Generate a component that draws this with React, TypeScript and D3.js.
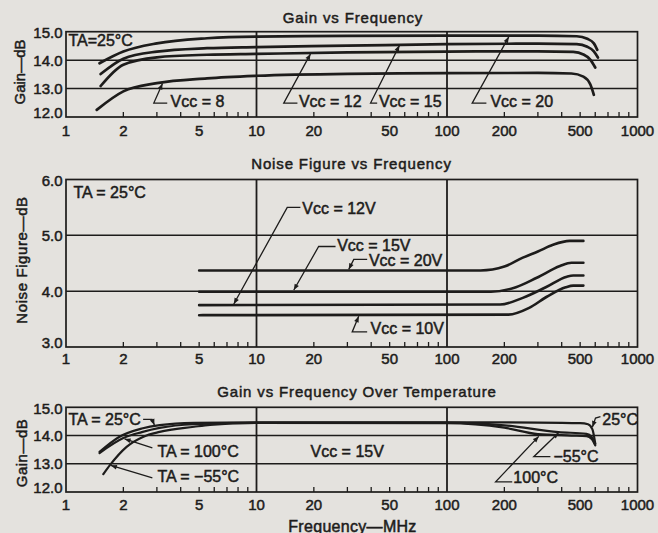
import React from 'react';
import * as d3 from 'd3';

type Pt = [number, number];

// ---------- data ----------
const FREQ_LABELS = [1, 2, 5, 10, 20, 50, 100, 200, 500, 1000];
const FREQ_GRID = [10, 100];
const GAIN_TICKS = [12, 13, 14, 15];
const NF_TICKS = [3, 4, 5, 6];

// Gain vs Frequency (TA = 25°C)
const gainVcc20: Pt[] = [[1.5, 13.89], [2, 14.3], [3, 14.59], [5.5, 14.77], [10, 14.83], [30, 14.85], [100, 14.86], [300, 14.86], [480, 14.84], [545, 14.75], [590, 14.59], [615, 14.36]];
const gainVcc15: Pt[] = [[1.52, 13.51], [2, 14.05], [3, 14.3], [5.5, 14.42], [10, 14.46], [30, 14.51], [100, 14.56], [300, 14.58], [480, 14.56], [545, 14.47], [590, 14.31], [620, 14.09]];
const gainVcc12: Pt[] = [[1.52, 13.09], [2, 13.84], [3, 14.1], [5.5, 14.19], [10, 14.22], [30, 14.27], [100, 14.3], [300, 14.31], [460, 14.29], [520, 14.2], [565, 14.02], [600, 13.74]];
const gainVcc8: Pt[] = [[1.45, 12.25], [2, 12.9], [3, 13.19], [5.5, 13.36], [10, 13.45], [30, 13.52], [100, 13.54], [300, 13.55], [450, 13.53], [520, 13.42], [565, 13.15], [590, 12.78]];

// Noise Figure vs Frequency (TA = 25°C)
const nfVcc20: Pt[] = [[5, 4.37], [150, 4.37], [200, 4.44], [250, 4.6], [300, 4.71], [360, 4.83], [440, 4.9], [520, 4.9]];
const nfVcc15: Pt[] = [[5, 3.99], [170, 3.99], [230, 4.07], [296, 4.24], [392, 4.45], [450, 4.51], [520, 4.51]];
const nfVcc12: Pt[] = [[5, 3.75], [190, 3.76], [250, 3.88], [330, 4.07], [426, 4.26], [460, 4.28], [520, 4.28]];
const nfVcc10: Pt[] = [[5, 3.57], [210, 3.58], [270, 3.7], [334, 3.9], [420, 4.07], [460, 4.1], [520, 4.1]];

// Gain vs Frequency Over Temperature (Vcc = 15V)
const gainT25: Pt[] = [[1.5, 13.42], [1.9, 13.95], [2.5, 14.25], [3.1, 14.37], [4.7, 14.45], [10, 14.47], [100, 14.47], [300, 14.46], [500, 14.44], [550, 14.4], [580, 14.22], [600, 13.72]];
const gainT100: Pt[] = [[1.5, 13.38], [2, 13.91], [2.5, 14.12], [3.1, 14.27], [4.7, 14.4], [10, 14.45], [100, 14.44], [200, 14.28], [300, 14.05], [450, 14.0], [540, 13.98], [575, 13.88], [600, 13.65]];
const gainTm55: Pt[] = [[1.57, 12.63], [1.7, 12.95], [2.08, 13.6], [2.55, 13.96], [3.1, 14.13], [4.7, 14.31], [5.7, 14.38], [10, 14.45], [100, 14.46], [200, 14.36], [385, 14.12], [540, 14.06], [575, 13.95], [600, 13.7]];

// annotations, in data units (freq MHz, value)
interface Note { text: string; at: Pt; leader?: Pt[]; }
const gainNotes: Note[] = [
  { text: 'TA=25°C', at: [1.03, 14.48] },
  { text: 'Vcc = 8', at: [3.54, 12.34], leader: [[3.4, 12.49], [2.89, 12.49], [3.21, 13.18]] },
  { text: 'Vcc = 12', at: [16.7, 12.34], leader: [[16.4, 12.49], [13.9, 12.49], [19.2, 14.22]] },
  { text: 'Vcc = 15', at: [43.9, 12.34], leader: [[43.0, 12.49], [39.7, 12.49], [56.3, 14.52]] },
  { text: 'Vcc = 20', at: [169, 12.34], leader: [[161, 12.49], [135.6, 12.49], [211, 14.82]] },
];
const nfNotes: Note[] = [
  { text: 'TA = 25°C', at: [1.095, 5.66] },
  { text: 'Vcc = 12V', at: [17.4, 5.39], leader: [[17.0, 5.5], [14.5, 5.5], [7.6, 3.77]] },
  { text: 'Vcc = 15V', at: [26.5, 4.725], leader: [[26.0, 4.8], [21.2, 4.8], [15.7, 4.02]] },
  { text: 'Vcc = 20V', at: [38.9, 4.45], leader: [[38.1, 4.57], [32.4, 4.57], [30.5, 4.39]] },
  { text: 'Vcc = 10V', at: [39.7, 3.23], leader: [[38.1, 3.27], [31.8, 3.27], [34.4, 3.55]] },
];
const tempNotes: Note[] = [
  { text: 'TA = 25°C', at: [1.03, 14.37], leader: [[2.54, 14.575], [2.83, 14.575], [2.91, 14.37]] },
  { text: 'TA = 100°C', at: [3.02, 13.25], leader: [[2.84, 13.56], [2.03, 13.88]] },
  { text: 'TA = −55°C', at: [3.02, 12.36], leader: [[2.84, 12.5], [1.72, 12.94]] },
  { text: 'Vcc = 15V', at: [19.2, 13.25] },
  { text: '25°C', at: [653, 14.37], leader: [[639, 14.67], [602, 14.62], [580, 14.3]] },
  { text: '−55°C', at: [362, 13.07], leader: [[349, 13.25], [285.5, 13.25], [385, 14.1]] },
  { text: '100°C', at: [223, 12.32], leader: [[220, 12.36], [180, 12.36], [303, 13.97]] },
];

// ---------- styling / layout ----------
const W = 658;
const H = 533;
const INK = '#1d1c1b';
const BG = '#e4e2de';
const FONT = '"Liberation Sans", Arial, Helvetica, sans-serif';
const TXT = { fontFamily: FONT, fill: INK, stroke: INK, strokeWidth: 0.5 } as const;

const x = d3.scaleLog().domain([1, 1000]).range([66, 637.5]);

interface PanelProps {
  yDomain: [number, number];
  yTop: number;
  yBot: number;
  yTicks: number[];
  title: string;
  titleX: number;
  titleY: number;
  yLabel: string;
  yLabelX: number;
  yLabelY: number;
  yLabelLs: number;
  xLabelY: number;
  series: Pt[][];
  curveWidth: number;
  notes: Note[];
}

function Panel(p: PanelProps) {
  const y = d3.scaleLinear().domain(p.yDomain).range([p.yBot, p.yTop]);
  const curve = d3.line<Pt>().x(d => x(d[0])).y(d => y(d[1])).curve(d3.curveMonotoneX);
  const straight = d3.line<Pt>().x(d => x(d[0])).y(d => y(d[1]));
  const x0 = x(1);
  const x1 = x(1000);
  const fmt = d3.format('.1f');
  const minor = x.ticks().filter(v => !FREQ_GRID.includes(Math.round(v)) && v > 1.01 && v < 999);
  const [ymin, ymax] = p.yDomain;
  return (
    <g>
      {/* title */}
      <text x={p.titleX} y={p.titleY} textAnchor="middle" fontSize={15} letterSpacing={0.85} {...TXT}>{p.title}</text>
      {/* horizontal grid */}
      {p.yTicks.filter(t => t > ymin && t < ymax).map(t => (
        <line key={'h' + t} x1={x0} x2={x1} y1={y(t)} y2={y(t)} stroke={INK} strokeWidth={1.5} />
      ))}
      {/* vertical decade grid */}
      {FREQ_GRID.map(f => (
        <line key={'v' + f} x1={x(f)} x2={x(f)} y1={y(ymax)} y2={y(ymin)} stroke={INK} strokeWidth={1.8} />
      ))}
      {/* frame */}
      <rect x={x0} y={y(ymax)} width={x1 - x0} height={y(ymin) - y(ymax)} fill="none" stroke={INK} strokeWidth={1.7} />
      {/* minor ticks */}
      {minor.map(f => (
        <line key={'t' + f} x1={x(f)} x2={x(f)} y1={y(ymin)} y2={y(ymin) - 5} stroke={INK} strokeWidth={1.3} />
      ))}
      {/* y tick labels */}
      {p.yTicks.map((t, i) => (
        <text key={'yl' + t} x={62.5} y={y(t) + (i === 0 ? -4 : i === p.yTicks.length - 1 ? 1 : 0)} dy="0.36em" textAnchor="end" fontSize={15} {...TXT}>{fmt(t)}</text>
      ))}
      {/* x tick labels */}
      {FREQ_LABELS.map(f => (
        <text key={'xl' + f} x={x(f)} y={p.xLabelY} textAnchor="middle" fontSize={15} {...TXT}>{f}</text>
      ))}
      {/* y label */}
      <text transform={`translate(${p.yLabelX},${p.yLabelY}) rotate(-90)`} textAnchor="middle" fontSize={15} letterSpacing={p.yLabelLs} {...TXT}>{p.yLabel}</text>
      {/* curves */}
      {p.series.map((s, i) => (
        <path key={'c' + i} d={curve(s) || ''} fill="none" stroke={INK} strokeWidth={p.curveWidth} strokeLinecap="round" />
      ))}
      {/* annotations */}
      {p.notes.map((n, i) => (
        <g key={'n' + i}>
          {n.leader && (
            <path d={straight(n.leader) || ''} fill="none" stroke={INK} strokeWidth={1.3} markerEnd="url(#arrow)" />
          )}
          <text x={x(n.at[0])} y={y(n.at[1])} fontSize={16} {...TXT}>{n.text}</text>
        </g>
      ))}
    </g>
  );
}

export default function App() {
  return (
    <svg width={W} height={H} viewBox={`0 0 ${W} ${H}`} style={{ position: 'absolute', left: 0, top: 0, display: 'block' }}>
      <defs>
        <marker id="arrow" viewBox="0 0 10 10" refX={10} refY={5} markerWidth={7} markerHeight={6} markerUnits="userSpaceOnUse" orient="auto">
          <path d="M0,1 L10,5 L0,9 z" fill={INK} />
        </marker>
      </defs>
      <rect x={0} y={0} width={W} height={H} fill={BG} />
      <Panel
        yDomain={[12, 15]} yTop={31.7} yBot={117} yTicks={GAIN_TICKS}
        title="Gain vs Frequency" titleX={353} titleY={23}
        yLabel="Gain—dB" yLabelX={25} yLabelY={72} yLabelLs={0}
        xLabelY={136}
        series={[gainVcc20, gainVcc15, gainVcc12, gainVcc8]} curveWidth={2.7}
        notes={gainNotes}
      />
      <Panel
        yDomain={[3, 6]} yTop={179.5} yBot={347} yTicks={NF_TICKS}
        title="Noise Figure vs Frequency" titleX={351.5} titleY={169}
        yLabel="Noise  Figure—dB" yLabelX={26.5} yLabelY={260} yLabelLs={0.6}
        xLabelY={363.5}
        series={[nfVcc20, nfVcc15, nfVcc12, nfVcc10]} curveWidth={2.6}
        notes={nfNotes}
      />
      <Panel
        yDomain={[12, 15]} yTop={407.3} yBot={492} yTicks={GAIN_TICKS}
        title="Gain vs Frequency Over Temperature" titleX={357} titleY={397}
        yLabel="Gain—dB" yLabelX={26.5} yLabelY={453} yLabelLs={0.5}
        xLabelY={510}
        series={[gainT25, gainT100, gainTm55]} curveWidth={2.2}
        notes={tempNotes}
      />
      <text x={352.5} y={531.5} textAnchor="middle" fontSize={16} letterSpacing={0.3} {...TXT}>Frequency—MHz</text>
    </svg>
  );
}
